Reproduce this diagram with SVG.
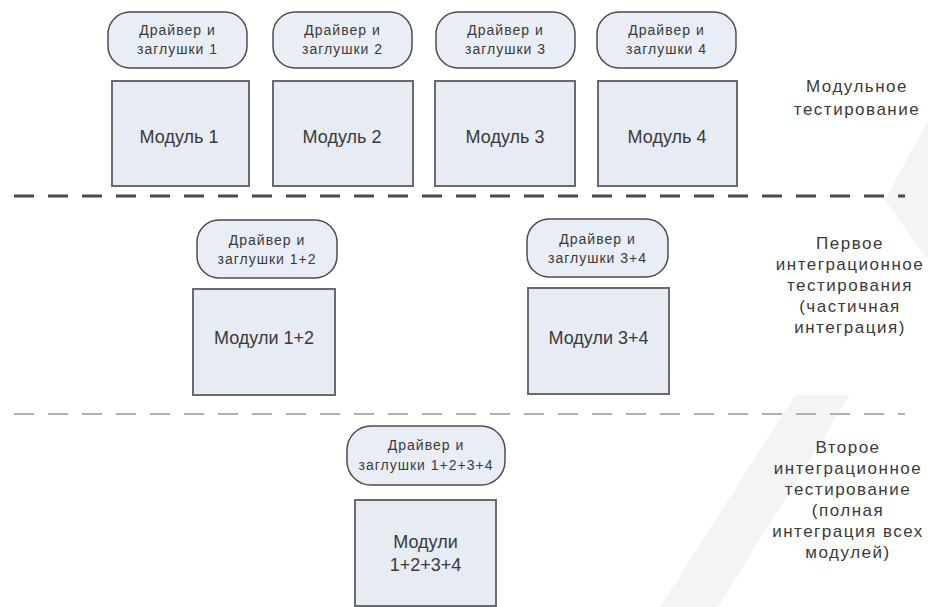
<svg xmlns="http://www.w3.org/2000/svg" width="928" height="607" viewBox="0 0 928 607">
<style>
text{font-family:"Liberation Sans",Arial,sans-serif;fill:#3a3a3a;text-anchor:middle}
.pill{fill:#e9eef6;stroke:#4d4d4d;stroke-width:1.5}
.box{fill:#e6ebf4;stroke:#6a6a6a;stroke-width:2}
.pt{font-size:14px;letter-spacing:1px}
.bt{font-size:18px}
.lt{font-size:17px;letter-spacing:1.5px}
.sep1{stroke:#4a4a4a;stroke-width:3;stroke-dasharray:20 14;fill:none}
.sep2{stroke:#b0b0b0;stroke-width:2;stroke-dasharray:20 14;fill:none}
.wm{fill:#f4f4f4}
</style>
<rect width="928" height="607" fill="#ffffff"/>
<g id="watermark">
<polygon class="wm" points="795,395 850,395 718,607 660,607"/>
<polygon class="wm" points="928,120 928,260 885,200"/>
</g>
<g id="connectors">
<line class="sep1" x1="14" y1="196" x2="905" y2="196"/>
<line class="sep2" x1="14" y1="414" x2="905" y2="414"/>
</g>
<g id="pill1"><rect class="pill" x="108" y="12" width="139" height="56" rx="22"/><text class="pt" x="177.5" y="35">Драйвер и</text><text class="pt" x="177.5" y="54">заглушки 1</text></g>
<g id="pill2"><rect class="pill" x="273" y="12" width="139" height="56" rx="22"/><text class="pt" x="342.5" y="35">Драйвер и</text><text class="pt" x="342.5" y="54">заглушки 2</text></g>
<g id="pill3"><rect class="pill" x="436" y="12" width="139" height="56" rx="22"/><text class="pt" x="505.5" y="35">Драйвер и</text><text class="pt" x="505.5" y="54">заглушки 3</text></g>
<g id="pill4"><rect class="pill" x="597" y="12" width="139" height="56" rx="22"/><text class="pt" x="666.5" y="35">Драйвер и</text><text class="pt" x="666.5" y="54">заглушки 4</text></g>
<g id="module1"><rect class="box" x="112" y="81" width="137" height="105"/><text class="bt" x="179" y="143">Модуль 1</text></g>
<g id="module2"><rect class="box" x="273" y="81" width="140" height="105"/><text class="bt" x="342" y="143">Модуль 2</text></g>
<g id="module3"><rect class="box" x="435" y="81" width="140" height="105"/><text class="bt" x="505" y="143">Модуль 3</text></g>
<g id="module4"><rect class="box" x="598" y="81" width="139" height="105"/><text class="bt" x="667" y="143">Модуль 4</text></g>
<g id="label1"><text class="lt" x="857" y="92">Модульное</text><text class="lt" x="857" y="115">тестирование</text></g>
<g id="pill12"><rect class="pill" x="197" y="220" width="140" height="58" rx="22"/><text class="pt" x="267" y="245">Драйвер и</text><text class="pt" x="267" y="264">заглушки 1+2</text></g>
<g id="pill34"><rect class="pill" x="527" y="219" width="141" height="58" rx="22"/><text class="pt" x="597.5" y="244">Драйвер и</text><text class="pt" x="597.5" y="263">заглушки 3+4</text></g>
<g id="module12"><rect class="box" x="193" y="289" width="142" height="106"/><text class="bt" x="264" y="344">Модули 1+2</text></g>
<g id="module34"><rect class="box" x="528" y="288" width="141" height="106"/><text class="bt" x="598.5" y="344">Модули 3+4</text></g>
<g id="label2"><text class="lt" x="850" y="249">Первое</text><text class="lt" x="850" y="270">интеграционное</text><text class="lt" x="850" y="291">тестирования</text><text class="lt" x="850" y="312">(частичная</text><text class="lt" x="850" y="333">интеграция)</text></g>
<g id="pill1234"><rect class="pill" x="347" y="426" width="158" height="59" rx="24"/><text class="pt" x="426" y="450">Драйвер и</text><text class="pt" x="426" y="470">заглушки 1+2+3+4</text></g>
<g id="module1234"><rect class="box" x="355" y="500" width="141" height="106"/><text class="bt" x="425.5" y="548">Модули</text><text class="bt" x="425.5" y="571">1+2+3+4</text></g>
<g id="label3"><text class="lt" x="848" y="453">Второе</text><text class="lt" x="848" y="474">интеграционное</text><text class="lt" x="848" y="495">тестирование</text><text class="lt" x="848" y="516">(полная</text><text class="lt" x="848" y="537">интеграция всех</text><text class="lt" x="848" y="558">модулей)</text></g>
</svg>
